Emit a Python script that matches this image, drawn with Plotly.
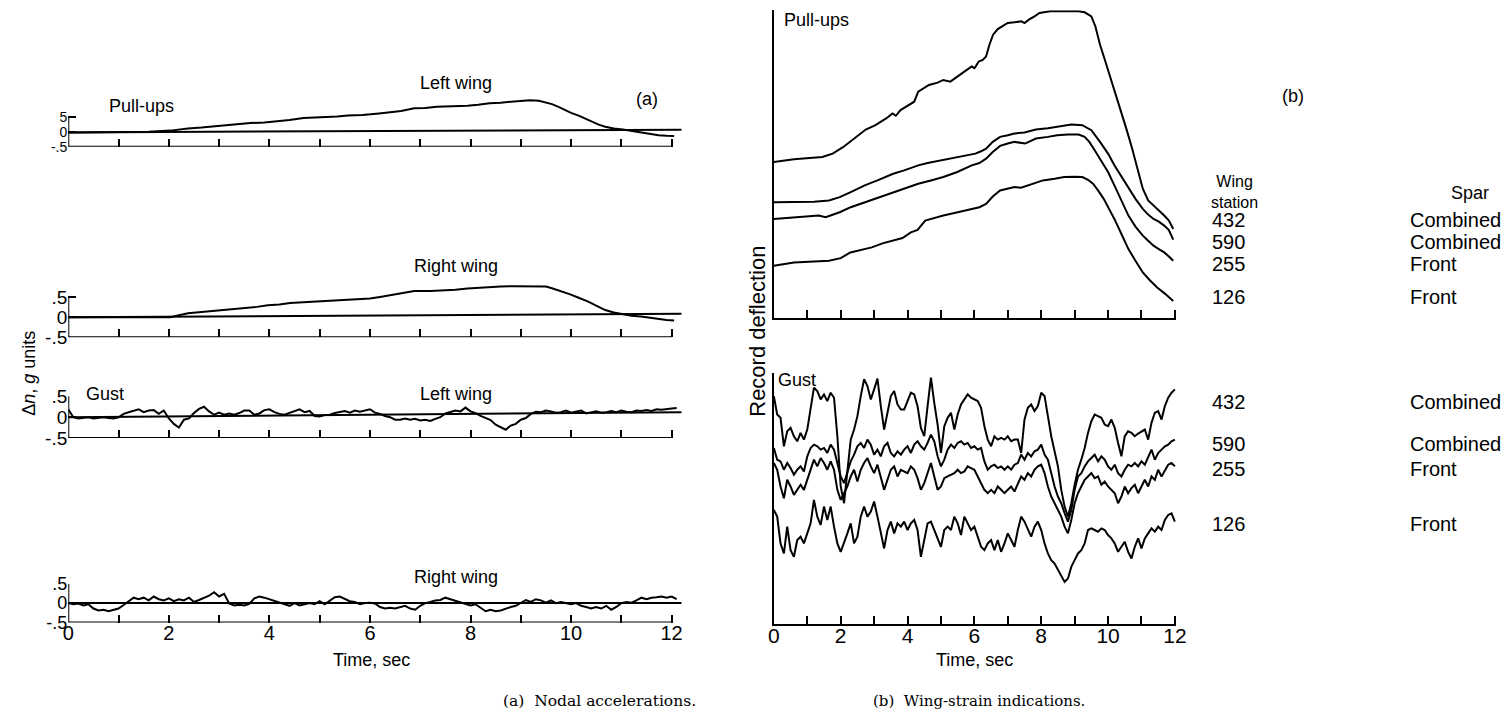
import plotly.graph_objects as go

# ---------------- DATA ----------------
# (a) Nodal accelerations, delta n in g units
T_PULL_LEFT = [0, 0.8, 1.6, 2.03, 2.2, 2.38, 2.65, 2.85, 3.09, 3.35,
               3.62, 3.9, 4.15, 4.4, 4.68, 4.9, 5.12, 5.35, 5.56, 5.85,
               6.18, 6.4, 6.62, 6.88, 7.1, 7.33, 7.6, 7.94, 8.15, 8.38,
               8.6, 8.83, 9.0, 9.18, 9.36, 9.5, 9.62, 9.75, 9.88, 10.0,
               10.15, 10.28, 10.41, 10.55, 10.68, 10.85, 11.03, 11.2, 11.39, 11.55,
               11.74, 11.9, 12.05]
PULL_LEFT_WING = [-0.02, -0.01, 0.0, 0.04, 0.08, 0.11, 0.14, 0.17, 0.23, 0.25,
                  0.29, 0.31, 0.35, 0.39, 0.46, 0.47, 0.5, 0.51, 0.54, 0.56,
                  0.61, 0.64, 0.69, 0.78, 0.79, 0.83, 0.84, 0.87, 0.9, 0.95,
                  0.97, 1.0, 1.02, 1.05, 1.03, 0.98, 0.92, 0.83, 0.72, 0.63,
                  0.54, 0.44, 0.33, 0.24, 0.17, 0.11, 0.08, 0.03, -0.03, -0.07,
                  -0.11, -0.13, -0.14]

T_PULL_RIGHT = [0, 1.0, 2.03, 2.2, 2.38, 2.65, 2.91, 3.2, 3.53, 3.75,
                3.97, 4.2, 4.41, 4.7, 5.03, 5.3, 5.56, 5.8, 6.0, 6.2,
                6.44, 6.65, 6.88, 7.2, 7.5, 7.7, 7.94, 8.15, 8.38, 8.6,
                8.83, 9.1, 9.36, 9.5, 9.62, 9.8, 9.97, 10.15, 10.33, 10.5,
                10.68, 10.85, 11.03, 11.2, 11.39, 11.55, 11.74, 11.9, 12.05]
PULL_RIGHT_WING = [0.0, 0.0, 0.0, 0.05, 0.1, 0.13, 0.16, 0.19, 0.22, 0.26,
                   0.3, 0.32, 0.36, 0.38, 0.41, 0.42, 0.43, 0.45, 0.47, 0.51,
                   0.56, 0.62, 0.66, 0.66, 0.67, 0.69, 0.72, 0.74, 0.76, 0.77,
                   0.78, 0.78, 0.78, 0.77, 0.73, 0.66, 0.58, 0.49, 0.4, 0.29,
                   0.18, 0.12, 0.07, 0.04, 0.02, -0.01, -0.03, -0.07, -0.08]

# gust records sampled every 0.1 s from t = 0
GUST_LEFT_WING = [0.19, 0.0, -0.03, -0.01, 0.0, -0.03, -0.01, 0.0, -0.02, -0.03,
                  0.0, 0.08, 0.12, 0.16, 0.19, 0.12, 0.16, 0.17, 0.08, 0.16,
                  -0.03, -0.16, -0.25, -0.06, -0.03, 0.1, 0.2, 0.25, 0.14, 0.06,
                  0.11, 0.06, 0.09, 0.06, 0.1, 0.16, 0.16, 0.06, 0.09, 0.17,
                  0.19, 0.12, 0.08, 0.06, 0.1, 0.14, 0.19, 0.12, 0.15, 0.03,
                  0.02, 0.05, 0.06, 0.1, 0.13, 0.15, 0.11, 0.16, 0.13, 0.16,
                  0.19, 0.11, 0.08, 0.03, 0.0, -0.06, -0.06, -0.03, -0.06, -0.04,
                  -0.08, -0.06, -0.09, -0.04, 0.0, 0.09, 0.12, 0.16, 0.14, 0.23,
                  0.14, 0.1, 0.03, -0.03, -0.07, -0.18, -0.25, -0.3, -0.2, -0.16,
                  -0.06, -0.02, 0.08, 0.13, 0.12, 0.16, 0.14, 0.11, 0.12, 0.16,
                  0.11, 0.14, 0.16, 0.09, 0.12, 0.14, 0.11, 0.12, 0.15, 0.12,
                  0.16, 0.13, 0.12, 0.16, 0.15, 0.17, 0.15, 0.19, 0.18, 0.2,
                  0.21, 0.22]
GUST_RIGHT_WING = [0.0, -0.03, -0.01, -0.06, -0.03, -0.14, -0.19, -0.17, -0.21, -0.17,
                   -0.14, -0.05, 0.05, 0.14, 0.1, 0.14, 0.07, 0.17, 0.1, 0.07,
                   0.12, 0.05, 0.1, 0.07, 0.14, 0.03, 0.08, 0.14, 0.19, 0.28,
                   0.17, 0.24, -0.01, -0.06, -0.04, -0.06, -0.02, 0.12, 0.17, 0.14,
                   0.1, 0.06, 0.01, -0.03, -0.07, 0.0, -0.06, -0.03, 0.0, -0.03,
                   0.05, -0.03, 0.07, 0.15, 0.17, 0.12, 0.05, 0.03, -0.03, 0.0,
                   0.01, -0.01, -0.1, -0.14, -0.12, -0.14, -0.1, -0.07, -0.14, -0.17,
                   -0.07, 0.0, 0.03, 0.07, 0.08, 0.14, 0.1, 0.06, 0.03, -0.01,
                   -0.06, -0.03, -0.12, -0.21, -0.17, -0.21, -0.19, -0.14, -0.1, -0.07,
                   0.0, 0.08, 0.03, 0.1, 0.07, 0.01, 0.07, 0.0, 0.03, 0.0,
                   -0.03, 0.0, -0.07, -0.1, -0.14, -0.1, -0.14, -0.07, -0.17, -0.1,
                   0.0, 0.03, 0.01, 0.07, 0.14, 0.1, 0.14, 0.15, 0.17, 0.14,
                   0.17, 0.1]

# reference (zero) lines of the records: value at start and at end (t = 12.2)
ZERO_LINE_T = [0, 12.2]
ZERO_LINES = [[-0.02, 0.07], [0.0, 0.09], [0.0, 0.12], [0.0, 0.0]]

# (b) Wing-strain indications, record deflection (arbitrary units)
STATIONS = ["432", "590", "255", "126"]
SPARS = ["Combined", "Combined", "Front", "Front"]

T_P432 = [0, 0.6, 1.45, 1.76, 2.08, 2.3, 2.5, 2.75, 3.04, 3.36,
          3.55, 3.65, 3.79, 4.1, 4.2, 4.32, 4.45, 4.64, 4.9, 5.07,
          5.28, 5.5, 5.7, 5.92, 6.0, 6.05, 6.13, 6.25, 6.35, 6.45,
          6.56, 6.7, 7.0, 7.2, 7.41, 7.5, 7.63, 7.8, 7.95, 8.27,
          8.8, 9.12, 9.3, 9.5, 9.62, 9.76, 9.92, 10.08, 10.24, 10.4,
          10.56, 10.72, 10.88, 11.04, 11.2, 11.36, 11.52, 11.68, 11.82, 11.95]
P432 = [465, 473, 480, 490, 510, 527, 545, 562, 575, 595,
        610, 603, 620, 637, 645, 675, 683, 695, 702, 710,
        705, 722, 735, 750, 745, 752, 765, 770, 780, 815,
        845, 862, 880, 882, 885, 880, 890, 900, 910, 915,
        916, 915, 912, 900, 870, 815, 765, 715, 665, 615,
        560, 505, 445, 385, 350, 335, 322, 305, 290, 265]
T_P590 = [0, 0.8, 1.2, 1.65, 1.97, 2.3, 2.72, 3.1, 3.57, 3.9,
          4.32, 4.6, 4.85, 5.2, 5.49, 5.75, 6.03, 6.2, 6.35, 6.55,
          6.77, 7.0, 7.2, 7.5, 7.84, 8.2, 8.48, 8.7, 8.9, 9.23,
          9.5, 9.76, 10.0, 10.19, 10.4, 10.61, 10.82, 11.04, 11.2, 11.36,
          11.52, 11.68, 11.82, 11.95]
P590 = [345, 347, 346, 350, 360, 375, 395, 410, 430, 440,
        455, 462, 467, 472, 480, 484, 490, 497, 505, 525,
        540, 545, 550, 553, 562, 566, 570, 574, 577, 575,
        560, 525, 490, 455, 422, 390, 355, 325, 308, 295,
        287, 275, 262, 233]
T_P255 = [0, 0.6, 1.34, 1.55, 1.97, 2.3, 2.72, 3.1, 3.57, 3.95,
          4.32, 4.7, 5.07, 5.49, 5.92, 6.15, 6.35, 6.55, 6.77, 7.0,
          7.2, 7.52, 7.84, 8.2, 8.48, 8.8, 9.12, 9.3, 9.44, 9.6,
          9.76, 10.0, 10.19, 10.4, 10.61, 10.82, 11.04, 11.2, 11.36, 11.52,
          11.68, 11.82, 11.95]
P255 = [295, 300, 305, 300, 315, 330, 345, 358, 375, 388,
        400, 410, 420, 435, 455, 462, 475, 495, 513, 520,
        525, 520, 535, 540, 545, 547, 547, 540, 525, 500,
        475, 435, 395, 350, 305, 272, 245, 230, 215, 205,
        195, 183, 170]
T_P126 = [0, 0.6, 1.65, 2.0, 2.29, 2.6, 2.93, 3.25, 3.57, 3.85,
          4.1, 4.3, 4.53, 4.8, 5.07, 5.5, 5.92, 6.15, 6.35, 6.55,
          6.77, 7.2, 7.4, 7.73, 8.05, 8.4, 8.69, 9.0, 9.23, 9.4,
          9.55, 9.7, 9.87, 10.03, 10.19, 10.4, 10.61, 10.82, 11.04, 11.25,
          11.47, 11.7, 11.95]
P126 = [155, 165, 170, 178, 195, 203, 210, 222, 230, 238,
        255, 262, 290, 298, 305, 315, 325, 330, 340, 362,
        380, 390, 388, 400, 410, 415, 420, 421, 420, 412,
        400, 380, 355, 325, 295, 250, 205, 170, 135, 112,
        90, 72, 50]

# gust strain records sampled every 0.1 s from t = 0
G432 = [682, 627, 617, 532, 577, 587, 562, 547, 572, 552,
        582, 652, 707, 697, 672, 687, 667, 692, 677, 562,
        412, 362, 462, 552, 582, 622, 682, 732, 712, 672,
        702, 734, 652, 582, 632, 682, 697, 657, 642, 642,
        667, 692, 687, 652, 587, 562, 652, 737, 662, 597,
        512, 592, 617, 632, 582, 627, 657, 672, 687, 677,
        672, 667, 647, 592, 552, 532, 562, 552, 557, 552,
        562, 547, 552, 552, 512, 612, 647, 657, 637, 652,
        692, 682, 622, 562, 517, 472, 402, 352, 322, 362,
        417, 462, 492, 527, 572, 607, 627, 622, 617, 597,
        592, 612, 587, 542, 502, 562, 577, 572, 562, 570,
        577, 582, 552, 602, 632, 637, 612, 652, 677, 692,
        702]
G590 = [527, 492, 487, 462, 482, 467, 447, 462, 472, 457,
        502, 527, 537, 532, 522, 527, 512, 537, 522, 482,
        442, 422, 452, 487, 507, 532, 542, 527, 552, 537,
        507, 522, 502, 532, 542, 512, 502, 517, 507, 522,
        532, 512, 537, 547, 532, 522, 542, 567, 547, 502,
        472, 492, 522, 537, 527, 542, 547, 537, 542, 527,
        532, 522, 527, 487, 462, 472, 477, 467, 472, 462,
        472, 462, 477, 482, 507, 492, 512, 502, 517, 522,
        537, 507, 492, 452, 412, 382, 362, 332, 307, 342,
        402, 442, 452, 472, 487, 497, 507, 487, 502, 492,
        472, 462, 477, 452, 442, 462, 477, 472, 482, 472,
        487, 477, 502, 522, 492, 512, 522, 532, 537, 547,
        552]
G255 = [482, 462, 412, 377, 432, 412, 387, 402, 417, 402,
        432, 462, 492, 472, 497, 482, 462, 487, 462, 402,
        372, 392, 412, 442, 462, 427, 462, 482, 497, 472,
        452, 477, 442, 402, 432, 462, 472, 442, 462, 457,
        452, 472, 462, 437, 402, 422, 452, 482, 442, 402,
        412, 437, 442, 447, 452, 462, 452, 457, 472, 467,
        462, 442, 422, 402, 392, 402, 392, 412, 402, 392,
        402, 412, 397, 422, 442, 432, 452, 442, 462, 472,
        477, 452, 412, 382, 362, 342, 322, 292, 272, 312,
        362, 392, 412, 432, 442, 452, 437, 442, 417, 427,
        412, 402, 392, 362, 382, 412, 392, 407, 417, 392,
        412, 432, 412, 442, 432, 462, 442, 462, 477, 482,
        472]
G126 = [342, 322, 242, 212, 292, 222, 202, 252, 262, 242,
        272, 302, 372, 322, 297, 352, 312, 352, 292, 242,
        217, 242, 272, 302, 242, 262, 322, 352, 322, 337,
        367, 322, 272, 227, 282, 307, 272, 302, 292, 307,
        282, 302, 312, 282, 202, 252, 302, 307, 282, 262,
        232, 282, 292, 282, 322, 302, 267, 322, 302, 282,
        292, 262, 232, 222, 242, 252, 222, 252, 217, 242,
        272, 252, 232, 282, 322, 307, 282, 262, 292, 307,
        282, 242, 212, 192, 182, 162, 142, 127, 137, 172,
        192, 212, 222, 242, 282, 287, 282, 277, 287, 282,
        267, 257, 242, 217, 232, 247, 217, 197, 232, 257,
        227, 257, 272, 287, 277, 292, 282, 312, 327, 332,
        307]

TICK_SECONDS = list(range(13))
TICK_TEXT = ["0", "", "2", "", "4", "", "6", "", "8", "", "10", "", "12"]
LEFT_YTICK_TEXT = [["-.5", "0", "5"], ["-.5", "0", ".5"], ["-.5", "0", ".5"], ["-.5", "0", ".5"]]

# ---------------- LAYOUT ----------------
W, H = 1510, 717
FONT = "Liberation Sans, Arial, Helvetica, sans-serif"
SERIF = "DejaVu Serif, Liberation Serif, serif"
BLACK = "black"
LW = 2.0


def px(xp):
    return xp / W


def py(yp):
    return 1 - yp / H


def gust_time(n):
    return [round(0.1 * i, 1) for i in range(n)]


fig = go.Figure()
layout = dict(width=W, height=H, margin=dict(l=0, r=0, t=0, b=0),
              paper_bgcolor="white", plot_bgcolor="white", showlegend=False)
shapes = []

# Left panel geometry
L_X0, L_SEC, L_TMAX = 63, 50.85, 12.2
# (pixel row of +0.5, pixel row of -0.5, top of range)
L_ROWS = [(110, 141, 1.12), (296, 337, 0.9), (398, 441, 0.5), (591, 631, 0.5)]
L_YFONT = [14, 19, 19, 18]
left_series = [(T_PULL_LEFT, PULL_LEFT_WING), (T_PULL_RIGHT, PULL_RIGHT_WING),
               (gust_time(len(GUST_LEFT_WING)), GUST_LEFT_WING),
               (gust_time(len(GUST_RIGHT_WING)), GUST_RIGHT_WING)]

for i, (yp, ym, top) in enumerate(L_ROWS):
    n = i + 1
    xa, ya = ("x", "y") if n == 1 else (f"x{n}", f"y{n}")
    scale = (ym - yp)
    top_px = ym - (top + 0.5) * scale
    layout["xaxis" if n == 1 else f"xaxis{n}"] = dict(
        domain=[px(L_X0), px(L_X0 + L_TMAX * L_SEC)], range=[0, L_TMAX], anchor=ya,
        showline=False, showgrid=False, zeroline=False,
        ticks="inside", ticklen=8, tickwidth=1.5, tickcolor=BLACK,
        tickvals=TICK_SECONDS, ticktext=TICK_TEXT, showticklabels=(n == 4),
        ticklabelstandoff=-4,
        tickfont=dict(family=FONT, size=20, color=BLACK))
    layout["yaxis" if n == 1 else f"yaxis{n}"] = dict(
        domain=[py(ym), py(top_px)], range=[-0.5, top], anchor=xa,
        showline=False, showgrid=False, zeroline=False,
        ticks="inside", ticklen=8, tickwidth=1.5, tickcolor=BLACK,
        tickvals=[-0.5, 0, 0.5], ticktext=LEFT_YTICK_TEXT[i],
        tickfont=dict(family=FONT, size=L_YFONT[i], color=BLACK))
    # axis frame lines (left and bottom) spanning -0.5..0.5 and 0..12 s
    shapes.append(dict(type="line", xref=xa, yref=ya, x0=0, x1=0, y0=-0.5, y1=0.5,
                       line=dict(color=BLACK, width=LW)))
    shapes.append(dict(type="line", xref=xa, yref=ya, x0=0, x1=12, y0=-0.5, y1=-0.5,
                       line=dict(color=BLACK, width=LW)))
    # zero reference line
    fig.add_trace(go.Scatter(x=ZERO_LINE_T, y=ZERO_LINES[i], mode="lines",
                             line=dict(color=BLACK, width=LW), xaxis=xa, yaxis=ya,
                             hoverinfo="skip"))
    tx, ty = left_series[i]
    fig.add_trace(go.Scatter(x=tx, y=ty, mode="lines",
                             line=dict(color=BLACK, width=LW), xaxis=xa, yaxis=ya,
                             hoverinfo="skip"))

# Right panel geometry
R_X0, R_SEC, R_TMAX = 776.6, 33.8, 12.03
R_K = 0.345  # px per deflection unit
R_PANELS = [  # (bottom px, value range top)
    (317, 918),
    (633, 752),
]
pull_series = [(T_P432, P432), (T_P590, P590), (T_P255, P255), (T_P126, P126)]
gust_series = [(gust_time(len(g)), g) for g in (G432, G590, G255, G126)]

for j, (bot, vtop) in enumerate(R_PANELS):
    n = 5 + j
    xa, ya = f"x{n}", f"y{n}"
    layout[f"xaxis{n}"] = dict(
        domain=[px(R_X0), px(R_X0 + R_TMAX * R_SEC)], range=[0, R_TMAX], anchor=ya,
        showline=True, linewidth=LW, linecolor=BLACK, showgrid=False, zeroline=False,
        ticks="inside", ticklen=8, tickwidth=1.5, tickcolor=BLACK,
        tickvals=TICK_SECONDS, ticktext=TICK_TEXT, showticklabels=(j == 1),
        ticklabelstandoff=-9,
        tickfont=dict(family=FONT, size=21, color=BLACK))
    layout[f"yaxis{n}"] = dict(
        domain=[py(bot), min(1.0, py(bot - vtop * R_K))], range=[0, vtop], anchor=xa,
        showline=True, linewidth=LW, linecolor=BLACK, showgrid=False, zeroline=False,
        ticks="", showticklabels=False)
    for tx, ty in (pull_series if j == 0 else gust_series):
        fig.add_trace(go.Scatter(x=tx, y=ty, mode="lines",
                                 line=dict(color=BLACK, width=LW), xaxis=xa, yaxis=ya,
                                 hoverinfo="skip"))

layout["shapes"] = shapes

# ---------------- TEXT ----------------
anns = []


def ann(text, x, y, size=18, xanchor="center", angle=0, family=FONT):
    anns.append(dict(text=text, x=px(x), y=py(y), xref="paper", yref="paper",
                     xanchor=xanchor, yanchor="middle", showarrow=False,
                     textangle=angle, font=dict(family=family, size=size, color=BLACK)))


ann("Pull-ups", 137, 99)
ann("Left wing", 455, 75)
ann("(a)", 648, 92)
ann("Right wing", 455, 264)
ann("Gust", 100, 396)
ann("Left wing", 455, 396)
ann("Right wing", 455, 584)
ann("\u0394<i>n</i>, <i>g</i> units", 23, 374, angle=-90)
ann("Time, sec", 370, 670)
ann("(a)  Nodal accelerations.", 600, 712, size=15.5, family=SERIF)

ann("Pull-ups", 820, 10)
ann("(b)", 1302, 89)
ann("Record deflection", 760, 331, size=22, angle=-90)
ann("Gust", 800, 381)
ann("Wing<br>station", 1242, 187, size=16)
ann("Spar", 1481, 189)
PULL_LABEL_Y = [216, 239, 262, 296]
GUST_LABEL_Y = [404, 447, 473, 529]
for s, sp, y1, y2 in zip(STATIONS, SPARS, PULL_LABEL_Y, GUST_LABEL_Y):
    ann(s, 1218, y1, size=20, xanchor="left")
    ann(sp, 1418, y1, size=20, xanchor="left")
    ann(s, 1218, y2, size=20, xanchor="left")
    ann(sp, 1418, y2, size=20, xanchor="left")
ann("Time, sec", 980, 670)
ann("(b)  Wing-strain indications.", 984, 712, size=15, family=SERIF)

layout["annotations"] = anns
fig.update_layout(**layout)
fig.write_html("out.html")
